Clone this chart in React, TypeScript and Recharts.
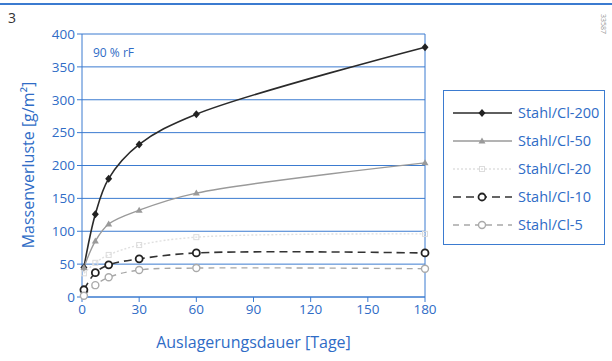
import React from 'react';
import { LineChart, Line, XAxis, YAxis, CartesianGrid, ReferenceLine, Label } from 'recharts';

const BLUE = '#3b7bd0';
const TEXT_BLUE = '#2f6cc6';

const days = [1, 7, 14, 30, 60, 180];
const cl200 = [45, 126, 180, 232, 278, 380];
const cl50 = [45, 85, 111, 132, 158, 204];
const cl20 = [36, 52, 64, 79, 91, 96];
const cl10 = [11, 37, 49, 58, 67, 67];
const cl5 = [2, 18, 30, 41, 44, 43];

const xTicks = [0, 30, 60, 90, 120, 150, 180];
const yTicks = [0, 50, 100, 150, 200, 250, 300, 350, 400];

const data = days.map((d, i) => ({
  day: d,
  cl200: cl200[i],
  cl50: cl50[i],
  cl20: cl20[i],
  cl10: cl10[i],
  cl5: cl5[i],
}));

// centripetal catmull-rom, smoother than monotone for these uneven day steps
const smoothCurve = (context: any) => {
  let pts: number[][] = [];
  return {
    areaStart() {},
    areaEnd() {},
    lineStart() {
      pts = [];
    },
    point(x: number, y: number) {
      pts.push([+x, +y]);
    },
    lineEnd() {
      if (!pts.length) return;
      context.moveTo(pts[0][0], pts[0][1]);
      const dist = (a: number[], b: number[]) => Math.sqrt(Math.hypot(a[0] - b[0], a[1] - b[1]));
      for (let i = 0; i < pts.length - 1; i++) {
        const p0 = pts[i - 1];
        const p1 = pts[i];
        const p2 = pts[i + 1];
        const p3 = pts[i + 2];
        const d2 = dist(p1, p2);
        let c1 = p1;
        let c2 = p2;
        if (p0) {
          const d1 = dist(p0, p1);
          const a = 2 * d1 * d1 + 3 * d1 * d2 + d2 * d2;
          const n = 3 * d1 * (d1 + d2);
          c1 = [0, 1].map((k) => (p1[k] * a - p0[k] * d2 * d2 + p2[k] * d1 * d1) / n);
        }
        if (p3) {
          const d3 = dist(p2, p3);
          const b = 2 * d3 * d3 + 3 * d3 * d2 + d2 * d2;
          const m = 3 * d3 * (d3 + d2);
          c2 = [0, 1].map((k) => (p2[k] * b + p1[k] * d3 * d3 - p3[k] * d2 * d2) / m);
        }
        context.bezierCurveTo(c1[0], c1[1], c2[0], c2[1], p2[0], p2[1]);
      }
    },
  };
};

const Diamond = (props: any) => {
  const { cx, cy } = props;
  if (cx == null || cy == null) return null;
  return <polygon points={`${cx},${cy - 4} ${cx + 3.5},${cy} ${cx},${cy + 4} ${cx - 3.5},${cy}`} fill="#222" />;
};

const Triangle = (props: any) => {
  const { cx, cy } = props;
  if (cx == null || cy == null) return null;
  return <polygon points={`${cx},${cy - 3.5} ${cx + 3.5},${cy + 2.5} ${cx - 3.5},${cy + 2.5}`} fill="#9a9a9a" />;
};

const Square = (props: any) => {
  const { cx, cy } = props;
  if (cx == null || cy == null) return null;
  return <rect x={cx - 2.5} y={cy - 2.5} width={5} height={5} fill="none" stroke="#dcdcdc" strokeWidth={1} />;
};

const series = [
  { key: 'cl200', name: 'Stahl/Cl-200', color: '#2a2a2a', dash: undefined, width: 1.6 },
  { key: 'cl50', name: 'Stahl/Cl-50', color: '#9a9a9a', dash: undefined, width: 1.4 },
  { key: 'cl20', name: 'Stahl/Cl-20', color: '#e0e0e0', dash: '2 2', width: 1.4 },
  { key: 'cl10', name: 'Stahl/Cl-10', color: '#333333', dash: '8 5', width: 1.6 },
  { key: 'cl5', name: 'Stahl/Cl-5', color: '#a8a8a8', dash: '6 5', width: 1.4 },
];

const marker = (key: string, x: number, y: number) => {
  if (key === 'cl200') return <Diamond cx={x} cy={y} />;
  if (key === 'cl50') return <Triangle cx={x} cy={y} />;
  if (key === 'cl20') return <Square cx={x} cy={y} />;
  if (key === 'cl10') return <circle cx={x} cy={y} r={3.5} fill="#fff" stroke="#222" strokeWidth={1.8} />;
  return <circle cx={x} cy={y} r={3.5} fill="#fff" stroke="#aaa" strokeWidth={1.4} />;
};

const LegendBox = () => (
  <div style={{ position: 'absolute', left: 443, top: 90, width: 162, height: 155, border: `1.5px solid ${BLUE}`, boxSizing: 'border-box', background: '#fff' }}>
    <svg width={159} height={152} style={{ display: 'block' }}>
      {series.map((s, i) => {
        const y = 22 + i * 28;
        return (
          <g key={s.key}>
            <line x1={9} x2={68} y1={y} y2={y} stroke={s.color} strokeWidth={s.width} strokeDasharray={s.dash} />
            {marker(s.key, 38, y)}
            <text x={74} y={y + 5} fontSize={14.5} fill={TEXT_BLUE} fontFamily="Open Sans, sans-serif">
              {s.name}
            </text>
          </g>
        );
      })}
    </svg>
  </div>
);

export default function App() {
  return (
    <div style={{ position: 'absolute', left: 0, top: 0, width: 612, height: 361, background: '#fff', fontFamily: 'Open Sans, sans-serif' }}>
      <LineChart width={612} height={361} data={data} margin={{ top: 34, right: 187, bottom: 0, left: 0 }}>
        <CartesianGrid horizontal vertical={false} stroke={BLUE} strokeWidth={1} />
        <XAxis
          dataKey="day"
          type="number"
          domain={[0, 180]}
          ticks={xTicks}
          stroke={BLUE}
          tickSize={5}
          tick={{ fill: TEXT_BLUE, fontSize: 13.5 }}
          height={64}
        >
          <Label value="Auslagerungsdauer [Tage]" position="insideTop" offset={40} fill={TEXT_BLUE} fontSize={16} />
        </XAxis>
        <YAxis
          type="number"
          domain={[0, 400]}
          ticks={yTicks}
          stroke={BLUE}
          tickSize={5}
          width={82}
          tick={{ fill: TEXT_BLUE, fontSize: 13.5 }}
        />
        <ReferenceLine x={180} stroke={BLUE} strokeWidth={1} />
        {series.map((s) => (
          <Line
            key={s.key}
            dataKey={s.key}
            name={s.name}
            type={smoothCurve as any}
            stroke={s.color}
            strokeWidth={s.width}
            strokeDasharray={s.dash}
            dot={(p: any) => <g key={`${s.key}-${p.index}`}>{marker(s.key, p.cx, p.cy)}</g>}
            activeDot={false}
            isAnimationActive={false}
          />
        ))}
        <text x={93} y={57} fontSize={12} fill={TEXT_BLUE}>90 % rF</text>
        <text x={34} y={165} fontSize={16} fill={TEXT_BLUE} textAnchor="middle" transform="rotate(-90 34 165)">
          Massenverluste [g/m²]
        </text>
      </LineChart>
      <div style={{ position: 'absolute', left: 0, top: 3, width: 612, height: 2, background: BLUE }} />
      <div style={{ position: 'absolute', left: 8, top: 8, fontSize: 14, color: '#333' }}>3</div>
      <div style={{ position: 'absolute', left: 608, top: 14, fontSize: 7, color: '#999', transform: 'rotate(90deg)', transformOrigin: 'left top' }}>
        33587
      </div>
      <LegendBox />
    </div>
  );
}
